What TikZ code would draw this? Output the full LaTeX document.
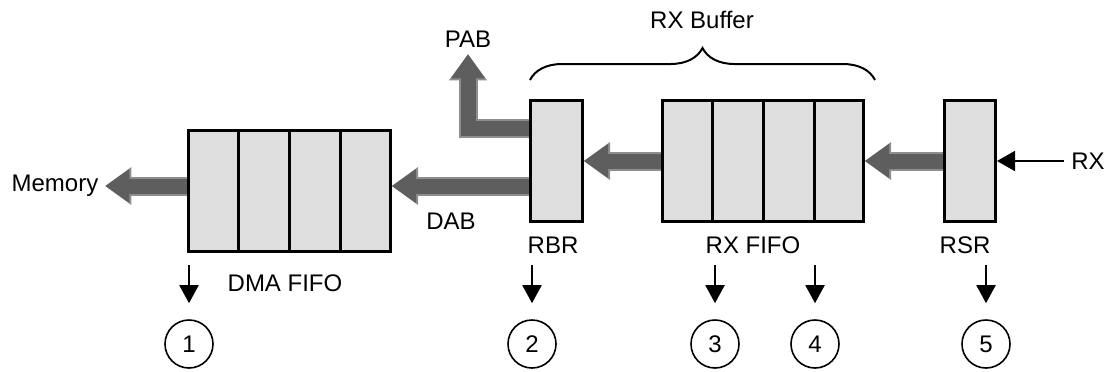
\documentclass[tikz,border=0pt]{standalone}
\usepackage{fontspec}
\setmainfont{Liberation Sans}
\usetikzlibrary{arrows.meta,calc,decorations.pathreplacing}
\definecolor{cellgray}{HTML}{DEDEDE}
\definecolor{busdark}{HTML}{5E5E5E}
\definecolor{buslight}{HTML}{8E8E8E}

\begin{document}
\begin{tikzpicture}[x=0.5pt, y=-0.5pt, font=\fontsize{12}{14}\selectfont,
    reg/.style={draw, line width=1.5pt, fill=cellgray, minimum height=60.5pt, inner sep=0pt},
    bus/.style={line width=7.5pt, draw=busdark,
        -{Triangle[length=12pt, width=17pt, line width=0pt, fill=busdark]},
        preaction={draw=buslight, line width=9.5pt, -{Triangle[length=13pt, width=19pt, line width=0pt, fill=buslight]}}},
    num/.style={draw, circle, line width=0.8pt, minimum size=24pt, inner sep=0pt},
    pin/.style={line width=1pt, -{Triangle[length=9pt, width=9.5pt]}}]
            \useasboundingbox (0,0) rectangle (1107,371);

            \node[reg, minimum width=101pt] (dma) at (289.5,191) {};
            \node[reg, minimum width=26pt] (rbr) at (556.5,161) {};
            \node[reg, minimum width=100.5pt] (rxfifo) at (763,161) {};
            \node[reg, minimum width=25.5pt] (rsr) at (970,161) {};
            \foreach \b in {dma,rxfifo}
                \foreach \i in {1,2,3}
                    \draw[line width=1.5pt] ($(\b.north west)!\i/4!(\b.north east)$) -- ($(\b.south west)!\i/4!(\b.south east)$);

            \node (mem) at (55,186) {Memory};
            \node (dab) at (451,221) {DAB};
            \node (pab) at (468,39) {PAB};
            \node (rbrlbl) at (553,245) {RBR};
            \node (rxfifolbl) at (753,245) {RX FIFO};
            \node (rsrlbl) at (965,245) {RSR};
            \node (dmalbl) at (285,283) {DMA FIFO};
            \node (rxbuf) at (702,20) {RX Buffer};
            \node (rx) at (1088,161) {RX};

            \draw[bus] (dma.west |- mem) -- (mem.east);
            \draw[bus] (rbr.west |- mem) -- (dma.east |- mem);
            \draw[bus] ([yshift=16.5pt]rbr.west) -| (pab.south);
            \draw[bus] (rxfifo.west) -- (rbr.east);
            \draw[bus] (rsr.west) -- (rxfifo.east);
            \draw[line width=1pt, -{Triangle[length=9pt, width=10pt]}] (rx.west) -- (rsr.east);

            \coordinate (bufl) at (530,80);
            \coordinate (bufr) at (875,80);
            \draw[line width=1pt, decorate, decoration={brace, amplitude=16pt}] (bufl) -- (bufr);

            \foreach \n/\x in {1/189,2/532,3/715,4/815,5/986}
                \node[num] (c\n) at (\x,344) {\n};
            \foreach \n in {1,...,5}
                \draw[pin] ([yshift=27pt]c\n.north) -- ([yshift=8pt]c\n.north);
    \end{tikzpicture}
\end{document}
